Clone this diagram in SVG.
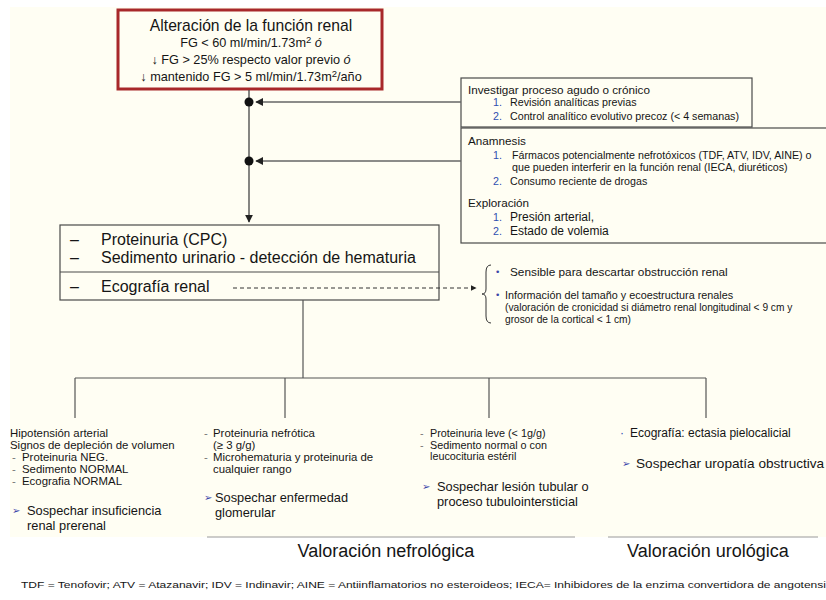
<svg xmlns="http://www.w3.org/2000/svg" width="826" height="600" viewBox="0 0 826 600">
  <defs>
    <style>
      text { font-family: "Liberation Sans", Arial, sans-serif; fill: #151515; }
      .box { fill: #fffef3; stroke: #4a4a4a; stroke-width: 1.2; }
      .line { stroke: #444; stroke-width: 1.3; fill: none; }
      .fork { stroke: #555; stroke-width: 1.2; fill: none; }
      .num { fill: #2f4fb0; }
      .blt { fill: #3a45a8; font-family: "DejaVu Sans", sans-serif; }
      .dash { fill: #777; }
      .rule { stroke: #9a9a9a; stroke-width: 1; }
      .t12 { font-size: 12px; }
      .col { font-size: 11.4px; }
      .t11 { font-size: 10.8px; }
      .t107 { font-size: 10.7px; }
      .t13 { font-size: 12.8px; }
      .t16 { font-size: 16px; }
      .head { font-size: 11.7px; }
    </style>
    <marker id="arrEnd" viewBox="0 0 10 10" refX="9" refY="5" markerWidth="6" markerHeight="6" orient="auto">
      <path d="M0,0 L10,5 L0,10 Z" fill="#222"/>
    </marker>
  </defs>

  <!-- page background -->
  <rect x="10" y="7" width="816" height="530" fill="#fffef3"/>

  <!-- top node -->
  <g id="node-alteracion">
    <rect x="118" y="10" width="264" height="79" fill="#fffef3" stroke="#a8282a" stroke-width="3"/>
    <text x="251" y="31" text-anchor="middle" font-size="15.7">Alteración de la función renal</text>
    <text x="251" y="47" text-anchor="middle" font-size="12.7">FG &lt; 60 ml/min/1.73m<tspan dy="-4" font-size="9.5">2</tspan><tspan dy="4"> </tspan><tspan font-style="italic">ó</tspan></text>
    <text x="251" y="64" text-anchor="middle" font-size="12.7">↓ FG &gt; 25% respecto valor previo <tspan font-style="italic">ó</tspan></text>
    <text x="251" y="81" text-anchor="middle" font-size="12.7">↓ mantenido FG &gt; 5 ml/min/1.73m<tspan dy="-4" font-size="9.5">2</tspan><tspan dy="4">/año</tspan></text>
  </g>

  <!-- acute vs chronic -->
  <g id="node-investigar">
    <rect class="box" x="461" y="78" width="291" height="49"/>
    <text class="head" x="468" y="94">Investigar proceso agudo o crónico</text>
    <text class="t107 num" x="493" y="106">1.</text>
    <text class="t107" x="510" y="106">Revisión analíticas previas</text>
    <text class="t107 num" x="493" y="120">2.</text>
    <text class="t107" x="510" y="120">Control analítico evolutivo precoz (&lt; 4 semanas)</text>
  </g>

  <!-- history and examination -->
  <g id="node-anamnesis">
    <rect class="box" x="461" y="128" width="372" height="115"/>
    <text class="head" x="468" y="145">Anamnesis</text>
    <text class="t107 num" x="493" y="159">1.</text>
    <text class="t107" x="512" y="159">Fármacos potencialmente nefrotóxicos (TDF, ATV, IDV, AINE) o</text>
    <text class="t107" x="512" y="170.5">que pueden interferir en la función renal (IECA, diuréticos)</text>
    <text class="t107 num" x="493" y="185">2.</text>
    <text class="t107" x="510" y="185">Consumo reciente de drogas</text>
    <text class="head" x="468" y="207">Exploración</text>
    <text class="t107 num" x="493" y="221">1.</text>
    <text class="t12" x="510" y="221">Presión arterial,</text>
    <text class="t107 num" x="493" y="234.5">2.</text>
    <text class="t12" x="510" y="234.5">Estado de volemia</text>
  </g>

  <!-- basic tests -->
  <g id="node-pruebas">
    <rect class="box" x="60" y="225" width="379" height="75"/>
    <line x1="60" y1="272" x2="439" y2="272" stroke="#4a4a4a" stroke-width="1.2"/>
    <text class="t16" x="70" y="245">–</text>
    <text class="t16" x="101" y="245">Proteinuria (CPC)</text>
    <text class="t16" x="70" y="263">–</text>
    <text class="t16" x="101" y="263">Sedimento urinario - detección de hematuria</text>
    <text class="t16" x="70" y="292">–</text>
    <text class="t16" x="101" y="292">Ecografía renal</text>
  </g>

  <!-- ultrasound notes -->
  <g id="node-ecografia">
    <path d="M491,265 Q486,265 486,272 L486,289 Q486,294 482,294 Q486,294 486,299 L486,316 Q486,323 491,323" fill="none" stroke="#333" stroke-width="1"/>
    <text class="blt" font-size="9" x="495" y="275">•</text>
    <text x="510" y="276" font-size="11.8">Sensible para descartar obstrucción renal</text>
    <text class="blt" font-size="9" x="495" y="298">•</text>
    <text x="505" y="299" font-size="10.8">Información del tamaño y ecoestructura renales</text>
    <text x="505" y="311" font-size="10.2">(valoración de cronicidad si diámetro renal longitudinal &lt; 9 cm y</text>
    <text x="505" y="322.5" font-size="10.2">grosor de la cortical &lt; 1 cm)</text>
  </g>

  <!-- prerenal -->
  <g id="node-prerenal">
    <text class="col" x="10" y="437">Hipotensión arterial</text>
    <text class="col" x="10" y="449">Signos de depleción de volumen</text>
    <text class="col dash" x="12" y="461">-</text>
    <text class="col" x="22" y="461">Proteinuria NEG.</text>
    <text class="col dash" x="12" y="473">-</text>
    <text class="col" x="22" y="473">Sedimento NORMAL</text>
    <text class="col dash" x="12" y="485">-</text>
    <text class="col" x="22" y="485">Ecografia NORMAL</text>
    <text class="blt" font-size="10" x="12" y="514">➢</text>
    <text class="t13" x="27" y="515">Sospechar insuficiencia</text>
    <text class="t13" x="27" y="529.5">renal prerenal</text>
  </g>

  <!-- glomerular -->
  <g id="node-glomerular">
    <text class="col dash" x="204" y="437">-</text>
    <text class="col" x="213" y="437">Proteinuria nefrótica</text>
    <text class="col" x="213" y="449">(≥ 3 g/g)</text>
    <text class="col dash" x="204" y="461">-</text>
    <text class="col" x="213" y="461">Microhematuria y proteinuria de</text>
    <text class="col" x="213" y="473">cualquier rango</text>
    <text class="blt" font-size="10" x="204" y="501">➢</text>
    <text class="t13" x="215" y="502">Sospechar enfermedad</text>
    <text class="t13" x="215" y="516.5">glomerular</text>
  </g>

  <!-- tubular -->
  <g id="node-tubular">
    <text class="t11 dash" x="420" y="437">-</text>
    <text class="t11" x="430" y="437">Proteinuria leve (&lt; 1g/g)</text>
    <text class="t11 dash" x="420" y="448.5">-</text>
    <text class="t11" x="430" y="448.5">Sedimento normal o con</text>
    <text class="t11" x="430" y="460">leucocituria estéril</text>
    <text class="blt" font-size="10" x="422" y="490">➢</text>
    <text class="t13" x="437" y="491">Sospechar lesión tubular o</text>
    <text class="t13" x="437" y="505.5">proceso tubulointersticial</text>
  </g>

  <!-- obstructive -->
  <g id="node-obstructiva">
    <text class="t12 num" x="620" y="437">·</text>
    <text class="t12" x="630" y="437">Ecografía: ectasia pielocalicial</text>
    <text class="blt" font-size="10" x="622" y="467">➢</text>
    <text x="636" y="468" font-size="13.6">Sospechar uropatía obstructiva</text>
  </g>

  <!-- assessment headings -->
  <g id="node-valoracion">
    <line class="rule" x1="207" y1="537" x2="575" y2="537"/>
    <line class="rule" x1="608" y1="537" x2="818" y2="537"/>
    <text x="386" y="557" text-anchor="middle" font-size="18">Valoración nefrológica</text>
    <text x="708" y="557" text-anchor="middle" font-size="18">Valoración urológica</text>
  </g>

  <!-- abbreviations -->
  <g id="node-abreviaturas">
    <text x="21" y="588" font-size="9.5" textLength="805" lengthAdjust="spacingAndGlyphs">TDF = Tenofovir; ATV = Atazanavir; IDV = Indinavir; AINE = Antiinflamatorios no esteroideos; IECA= Inhibidores de la enzima convertidora de angotensi</text>
  </g>

  <!-- connectors -->
  <g id="connectors">
    <line class="line" x1="249" y1="90" x2="249" y2="222" marker-end="url(#arrEnd)"/>
    <circle cx="249" cy="102" r="4.5" fill="#111"/>
    <circle cx="249" cy="161" r="4.5" fill="#111"/>
    <line x1="461" y1="102" x2="256" y2="102" stroke="#666" stroke-width="1.3" marker-end="url(#arrEnd)"/>
    <line x1="461" y1="161" x2="256" y2="161" stroke="#666" stroke-width="1.3" marker-end="url(#arrEnd)"/>
    <line x1="233" y1="288" x2="476" y2="288" stroke="#333" stroke-width="1" stroke-dasharray="4,3" marker-end="url(#arrEnd)"/>
    <line class="fork" x1="303" y1="300" x2="303" y2="378"/>
    <line class="fork" x1="75" y1="378" x2="706" y2="378"/>
    <line class="fork" x1="75" y1="378" x2="75" y2="418"/>
    <line class="fork" x1="285" y1="378" x2="285" y2="418"/>
    <line class="fork" x1="489" y1="378" x2="489" y2="418"/>
    <line class="fork" x1="706" y1="378" x2="706" y2="418"/>
  </g>
</svg>
